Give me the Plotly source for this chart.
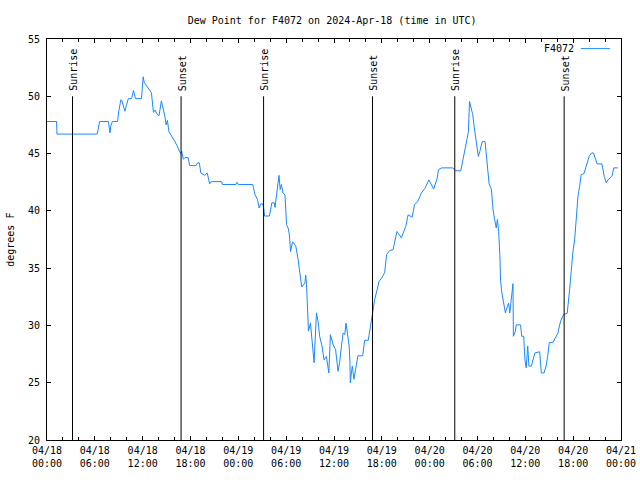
import pandas as pd
import plotly.graph_objects as go

start = "2024-04-18 00:00"
hours = [0.0, 1.2, 1.25, 6.3, 6.6, 7.7, 7.9, 8.0, 8.2, 8.85, 9.0, 9.27, 9.4, 9.77, 10.0, 10.2, 10.6, 10.85, 11.1, 11.85,
         12.06, 12.2, 12.4, 12.8, 13.1, 13.35, 13.55, 13.85, 14.05, 14.35, 14.55, 14.8, 14.95, 15.1, 15.3, 15.7, 16.0, 16.3,
         16.6, 16.75, 16.9, 17.1, 17.3, 17.7, 17.9, 18.7, 18.9, 19.1, 19.3, 19.8, 20.1, 20.4, 20.6, 21.9, 22.0, 23.7, 23.85,
         24.0, 25.8, 26.1, 26.4, 26.6, 26.8, 27.1, 27.3, 27.9, 28.2, 28.5, 28.6, 28.9, 29.1, 29.25, 29.4, 29.6, 29.85, 30.05,
         30.25, 30.4, 30.55, 30.8, 31.2, 31.5, 31.7, 31.95, 32.35, 32.45, 32.55, 32.65, 32.8, 33.05, 33.3, 33.5, 33.8, 34.0,
         34.2, 34.5, 34.75, 35.05, 35.35, 35.55, 35.9, 36.2, 36.5, 36.7, 36.95, 37.15, 37.35, 37.5, 37.65, 37.9, 38.0, 38.05,
         38.2, 38.3, 38.5, 38.75, 39.0, 39.6, 39.85, 40.3, 40.55, 40.8, 41.1, 41.4, 41.65, 42.0, 42.35, 42.6, 43.0, 43.4,
         43.6, 43.9, 44.1, 44.45, 45.0, 45.3, 45.8, 46.1, 46.5, 46.95, 47.4, 47.9, 48.5, 48.95, 49.1, 49.5, 50.9, 51.25,
         51.9, 52.3, 52.6, 52.85, 53.0, 53.2, 53.4, 53.55, 53.8, 54.1, 54.3, 54.6, 54.95, 55.1, 55.3, 55.45, 55.75, 55.95,
         56.15, 56.35, 56.5, 56.65, 56.8, 56.9, 57.05, 57.3, 57.5, 57.75, 57.9, 58.05, 58.3, 58.45, 58.5, 58.75, 58.85,
         59.4, 59.55, 59.8, 59.95, 60.1, 60.3, 60.45, 60.75, 60.95, 61.2, 61.8, 62.0, 62.35, 62.6, 62.8, 63.0, 63.45, 63.75,
         64.1, 64.3, 64.5, 64.8, 65.25, 65.55, 65.75, 65.95, 66.2, 66.4, 66.6, 66.8, 67.0, 67.35, 67.6, 68.0, 68.3, 68.55,
         69.0, 69.6, 69.9, 70.15, 70.35, 70.85, 71.1, 71.6]
dewpoint = [47.8, 47.8, 46.7, 46.7, 47.8, 47.8, 46.8, 47.4, 47.8, 47.8, 48.7, 49.7, 49.6, 48.7, 49.3, 49.8, 49.8, 50.5, 49.8, 49.8,
            51.7, 51.2, 51.0, 50.6, 50.3, 48.6, 48.8, 48.4, 48.3, 49.6, 49.0, 48.2, 47.5, 47.9, 46.9, 46.5, 46.1, 45.7,
            45.3, 45.0, 45.2, 44.5, 44.65, 44.65, 43.95, 43.95, 44.2, 44.2, 43.3, 43.1, 43.3, 42.35, 42.55, 42.55, 42.3, 42.3, 42.5,
            42.3, 42.3, 41.4, 41.0, 40.25, 40.6, 40.6, 39.55, 39.55, 40.7, 40.7, 40.3, 41.85, 43.1, 41.85, 42.3, 41.55, 41.4, 38.8,
            38.5, 37.9, 36.45, 37.3, 36.95, 35.75, 34.45, 33.35, 33.7, 34.4, 33.6, 31.45, 29.5, 30.2, 28.5, 26.75, 31.1, 30.35,
            29.05, 28.2, 27.0, 27.3, 25.85, 29.2, 28.3, 27.9, 26.0, 26.75, 28.3, 29.35, 29.2, 30.2, 29.5, 28.2, 26.75, 25.0,
            26.0, 26.45, 25.3, 26.45, 27.35, 27.35, 28.7, 28.7, 29.8, 30.95, 32.25, 33.1, 33.85, 34.15, 34.6, 36.2, 36.55, 36.6,
            37.35, 38.2, 38.0, 37.65, 38.65, 39.65, 39.45, 40.55, 40.8, 41.55, 41.95, 42.7, 41.9, 42.85, 43.6, 43.75, 43.75, 43.5,
            43.5, 45.05, 46.2, 46.85, 49.55, 48.95, 48.4, 47.5, 46.2, 44.75, 45.2, 46.05, 46.05, 45.05, 43.45, 42.4, 41.85, 40.1,
            39.25, 38.5, 39.25, 38.2, 36.2, 33.85, 32.85, 31.95, 31.1, 31.65, 31.95, 31.1, 32.85, 33.65, 29.05, 29.5, 30.05,
            30.05, 29.05, 29.05, 27.0, 26.3, 28.2, 26.45, 26.45, 27.0, 27.6, 27.7, 25.85, 25.85, 26.45, 27.3, 28.5, 28.5, 28.9,
            29.35, 30.05, 30.5, 30.95, 31.05, 33.1, 35.0, 36.3, 37.6, 39.8, 41.25, 42.1, 43.15, 43.25, 43.9, 44.75, 45.05, 45.05,
            44.1, 44.1, 43.0, 42.45, 42.7, 43.0, 43.75, 43.75]

sun_times = ["2024-04-18 03:12", "2024-04-18 16:49", "2024-04-19 03:10",
             "2024-04-19 16:50", "2024-04-20 03:09", "2024-04-20 16:52"]
sun_labels = ["Sunrise", "Sunset", "Sunrise", "Sunset", "Sunrise", "Sunset"]

tick_vals = pd.date_range("2024-04-18 00:00", "2024-04-21 00:00", freq="6h")
tick_text = ["04/18<br>00:00", "04/18<br>06:00", "04/18<br>12:00", "04/18<br>18:00",
             "04/19<br>00:00", "04/19<br>06:00", "04/19<br>12:00", "04/19<br>18:00",
             "04/20<br>00:00", "04/20<br>06:00", "04/20<br>12:00", "04/20<br>18:00",
             "04/21<br>00:00"]
y_ticks = [20, 25, 30, 35, 40, 45, 50, 55]

series_name = "F4072"
line_color = "#1a88ff"
FONT = "DejaVu Sans Mono"

times = pd.Timestamp(start) + pd.to_timedelta(hours, unit="h")

fig = go.Figure()
fig.add_trace(go.Scatter(x=times, y=dewpoint, mode="lines", name=series_name,
                         line=dict(color=line_color, width=1), showlegend=False,
                         hoverinfo="x+y"))

for t, lab in zip(sun_times, sun_labels):
    fig.add_shape(type="line", x0=t, x1=t, y0=20, y1=50, xref="x", yref="y",
                  line=dict(color="black", width=1))
    fig.add_annotation(x=t, y=50, xref="x", yref="y", text=lab, textangle=-90,
                       showarrow=False, xanchor="center", yanchor="bottom", yshift=3,
                       xshift=1, font=dict(family=FONT, size=10, color="black"))

# legend (text left, sample line right as in the reference)
fig.add_annotation(x=0.922, y=0.976, xref="paper", yref="paper", text=series_name,
                   showarrow=False, xanchor="right", yanchor="middle",
                   font=dict(family=FONT, size=10, color="black"))
fig.add_shape(type="line", x0=0.93, x1=0.981, y0=0.976, y1=0.976, xref="paper", yref="paper",
              line=dict(color=line_color, width=1))

# y axis title
fig.add_annotation(x=-0.064, y=0.5, xref="paper", yref="paper", text="degrees F",
                   textangle=-90, showarrow=False, xanchor="center", yanchor="middle",
                   font=dict(family=FONT, size=10, color="black"))

fig.update_layout(
    width=640, height=480,
    margin=dict(l=47, r=19, t=39, b=40),
    paper_bgcolor="white", plot_bgcolor="white",
    font=dict(family=FONT, size=10, color="black"),
    title=dict(text="Dew Point for F4072 on 2024-Apr-18 (time in UTC)",
               x=0.519, xref="container", xanchor="center",
               y=0.958, yref="container", yanchor="middle",
               font=dict(family=FONT, size=10, color="black")),
    showlegend=False,
)
fig.update_xaxes(range=["2024-04-18 00:00", "2024-04-21 00:00"], tickmode="array",
                 tickvals=tick_vals, ticktext=tick_text, ticks="inside", ticklen=4,
                 tickcolor="black", showline=True, linecolor="black", linewidth=1,
                 mirror="ticks", showgrid=False, zeroline=False, automargin=False,
                 ticklabelstandoff=1,
                 minor=dict(dtick=2 * 3600 * 1000, tick0="2024-04-18 00:00", ticks="inside",
                            ticklen=3, tickcolor="black", showgrid=False),
                 tickfont=dict(family=FONT, size=10, color="black"))
fig.update_yaxes(range=[20, 55], tickmode="array", tickvals=y_ticks, ticks="inside",
                 ticklen=4, tickcolor="black", showline=True, linecolor="black", linewidth=1,
                 mirror="ticks", showgrid=False, zeroline=False, automargin=False,
                 ticklabelstandoff=4,
                 tickfont=dict(family=FONT, size=10, color="black"))

fig.write_html("out.html")
